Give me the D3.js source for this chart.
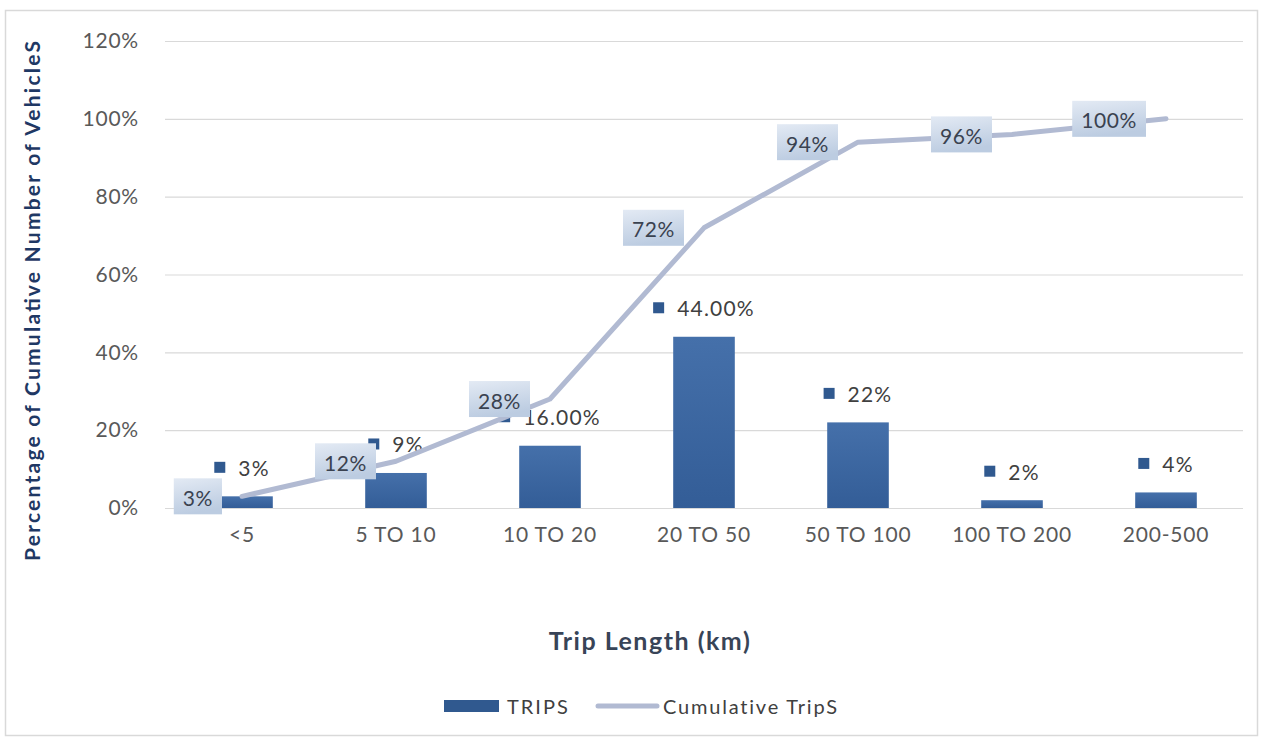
<!DOCTYPE html>
<html>
<head>
<meta charset="utf-8">
<script src="https://cdn.jsdelivr.net/npm/d3@7"></script>
<style>
  html, body { margin: 0; padding: 0; background: #ffffff; }
  svg { display: block; font-family: Lato, "Open Sans", sans-serif; }
</style>
</head>
<body>
<svg id="chart" width="1269" height="742"></svg>
<script>
// Trip length bins
const categories = ["<5", "5 TO 10", "10 TO 20", "20 TO 50", "50 TO 100", "100 TO 200", "200-500"];
// Share of trips in each bin
const tripValues = [0.03, 0.09, 0.16, 0.44, 0.22, 0.02, 0.04];
// Decimal places used in each bar label
const tripDecimals = [0, 0, 2, 2, 0, 0, 0];
// Cumulative share of trips
const cumulativeValues = [0.03, 0.12, 0.28, 0.72, 0.94, 0.96, 1.00];
// Y axis ticks
const yTicks = [0, 0.2, 0.4, 0.6, 0.8, 1.0, 1.2];

const svg = d3.select("#chart");
const plot = { left: 165, right: 1243, top: 41, bottom: 508 };

// outer chart frame
svg.append("rect")
  .attr("x", 5.5).attr("y", 10.5)
  .attr("width", 1252).attr("height", 725)
  .attr("fill", "#ffffff")
  .attr("stroke", "#d9d9d9").attr("stroke-width", 1.5);

const x = d3.scaleBand()
  .domain(categories)
  .range([plot.left, plot.right])
  .paddingInner(0.6)
  .paddingOuter(0.3);

const y = d3.scaleLinear()
  .domain([0, 1.2])
  .range([plot.bottom, plot.top]);

const defs = svg.append("defs");
const boxGrad = defs.append("linearGradient")
  .attr("id", "labelBox").attr("x1", 0).attr("y1", 0).attr("x2", 0.25).attr("y2", 1);
boxGrad.append("stop").attr("offset", "0%").attr("stop-color", "#e3eaf4");
boxGrad.append("stop").attr("offset", "100%").attr("stop-color", "#bccce1");

const barGrad = defs.append("linearGradient")
  .attr("id", "barFill").attr("x1", 0).attr("y1", 0).attr("x2", 0).attr("y2", 1);
barGrad.append("stop").attr("offset", "0%").attr("stop-color", "#4570aa");
barGrad.append("stop").attr("offset", "100%").attr("stop-color", "#335d97");

// gridlines
const grid = svg.append("g")
  .attr("transform", `translate(${plot.left},0)`)
  .call(d3.axisLeft(y).tickValues(yTicks).tickSize(-(plot.right - plot.left)).tickFormat(""));
grid.select(".domain").remove();
grid.selectAll("line").attr("stroke", "#d9d9d9").attr("stroke-width", 1.2);

// y axis labels
const yAxis = svg.append("g")
  .attr("transform", `translate(${plot.left - 26},0)`)
  .call(d3.axisLeft(y).tickValues(yTicks).tickSize(0).tickPadding(0).tickFormat(d3.format(".0%")));
yAxis.select(".domain").remove();
yAxis.selectAll("text")
  .attr("fill", "#595959")
  .style("font-size", "21px")
  .style("letter-spacing", "0.8px")
  .style("font-family", "Lato, sans-serif");

// x axis labels
const xAxis = svg.append("g")
  .attr("transform", `translate(0,${plot.bottom + 22})`)
  .call(d3.axisBottom(x).tickSize(0).tickPadding(0));
xAxis.select(".domain").remove();
xAxis.selectAll("text")
  .attr("fill", "#595959")
  .attr("dy", "0.55em")
  .style("font-size", "21px")
  .style("letter-spacing", "0.8px")
  .style("font-family", "Lato, sans-serif");

// bars
svg.append("g").selectAll("rect")
  .data(tripValues)
  .join("rect")
  .attr("x", (d, i) => x(categories[i]))
  .attr("y", d => y(d))
  .attr("width", x.bandwidth())
  .attr("height", d => y(0) - y(d))
  .attr("fill", "url(#barFill)");

// bar labels: legend key + value
const barLabels = svg.append("g").selectAll("g")
  .data(tripValues)
  .join("g");
barLabels.each(function (d, i) {
  const g = d3.select(this);
  const txt = g.append("text")
    .text(d3.format(`.${tripDecimals[i]}%`)(d))
    .attr("fill", "#404040")
    .style("font-size", "21px")
    .style("letter-spacing", "1.2px")
    .attr("dominant-baseline", "central");
  const tw = txt.node().getComputedTextLength();
  const key = 11, gap = 13;
  const total = key + gap + tw;
  const cx = x(categories[i]) + x.bandwidth() / 2;
  const cy = y(d) - 29;
  const left = cx - total / 2;
  g.insert("rect", "text")
    .attr("x", left).attr("y", cy - key / 2)
    .attr("width", key).attr("height", key)
    .attr("fill", "#30598f");
  txt.attr("x", left + key + gap).attr("y", cy);
});

// cumulative line
const cx = c => x(c) + x.bandwidth() / 2;
svg.append("path")
  .datum(cumulativeValues)
  .attr("fill", "none")
  .attr("stroke", "#b1bad2")
  .attr("stroke-width", 5)
  .attr("stroke-linejoin", "round")
  .attr("stroke-linecap", "round")
  .attr("d", d3.line().x((d, i) => cx(categories[i])).y(d => y(d)));

// cumulative labels in shaded boxes, left of each point
const lineLabels = svg.append("g").selectAll("g")
  .data(cumulativeValues)
  .join("g");
lineLabels.each(function (d, i) {
  const g = d3.select(this);
  const txt = g.append("text")
    .text(d3.format(".0%")(d))
    .attr("fill", "#3a4250")
    .style("font-size", "21px")
    .style("letter-spacing", "0.6px")
    .attr("dominant-baseline", "central")
    .attr("text-anchor", "middle");
  const tw = txt.node().getComputedTextLength();
  const bw = tw + 18, bh = 36;
  const right = cx(categories[i]) - 20;
  const py = y(d);
  g.insert("rect", "text")
    .attr("x", right - bw).attr("y", py - bh / 2)
    .attr("width", bw).attr("height", bh)
    .attr("fill", "url(#labelBox)");
  txt.attr("x", right - bw / 2).attr("y", py + 1);
});

// axis titles
svg.append("text")
  .attr("transform", `translate(31,${(40 + 562) / 2}) rotate(-90)`)
  .attr("text-anchor", "middle")
  .attr("dominant-baseline", "central")
  .attr("fill", "#1f3864")
  .style("font-size", "21px")
  .style("font-weight", "bold")
  .attr("textLength", 520)
  .attr("lengthAdjust", "spacing")
  .text("Percentage of Cumulative Number of VehicleS");

svg.append("text")
  .attr("x", 650).attr("y", 640)
  .attr("text-anchor", "middle")
  .attr("dominant-baseline", "central")
  .attr("fill", "#384457")
  .style("font-size", "25px")
  .style("font-weight", "bold")
  .style("letter-spacing", "1.5px")
  .text("Trip Length (km)");

// legend
const legend = svg.append("g").attr("transform", "translate(0,706)");
legend.append("rect")
  .attr("x", 444).attr("y", -6).attr("width", 55).attr("height", 12)
  .attr("fill", "#30598f");
legend.append("text")
  .attr("x", 507).attr("y", 0)
  .attr("dominant-baseline", "central")
  .attr("fill", "#404040")
  .style("font-size", "20px")
  .style("letter-spacing", "2px")
  .text("TRIPS");
legend.append("line")
  .attr("x1", 598).attr("x2", 657).attr("y1", 0).attr("y2", 0)
  .attr("stroke", "#b1bad2").attr("stroke-width", 5).attr("stroke-linecap", "round");
legend.append("text")
  .attr("x", 663).attr("y", 0)
  .attr("dominant-baseline", "central")
  .attr("fill", "#404040")
  .style("font-size", "20px")
  .style("letter-spacing", "1.8px")
  .text("Cumulative TripS");
</script>
</body>
</html>
